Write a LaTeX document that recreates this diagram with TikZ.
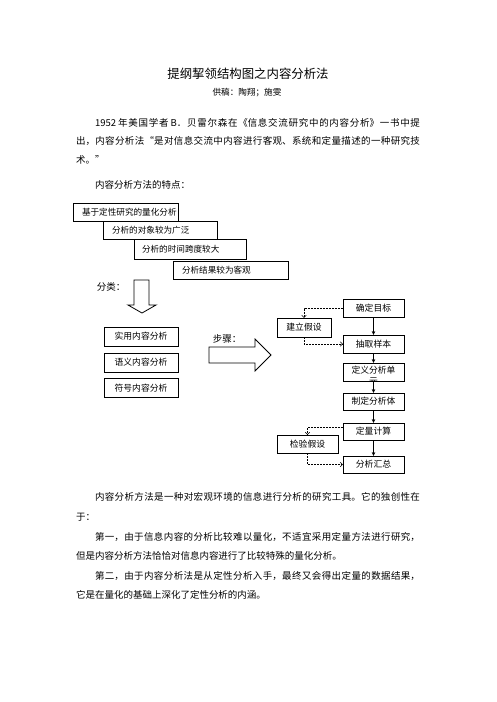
\documentclass[tikz,border=0pt]{standalone}
\usepackage{fontspec}
\setmainfont{Noto Sans CJK SC}
\usetikzlibrary{arrows.meta}
\newcommand{\jline}[2]{\parbox{#1}{\XeTeXlinebreaklocale "zh"\XeTeXlinebreakskip=0pt plus 1fil\relax\parfillskip=0pt\relax\noindent #2}}
\begin{document}
\begin{tikzpicture}[x=1pt,y=-1pt,
  every node/.style={inner sep=0pt, outer sep=0pt},
  body/.style={font=\fontsize{9.5}{11}\selectfont, anchor=west},
  fbox/.style={draw, line width=0.9pt, fill=white},
  ftext/.style={font=\fontsize{8.6}{10}\selectfont, anchor=west},
  cbox/.style={draw, line width=0.9pt, fill=white, minimum width=74pt, minimum height=19pt, font=\fontsize{8.8}{10}\selectfont},
  sbox/.style={draw, line width=0.9pt, fill=white, minimum width=61pt, minimum height=18pt, font=\fontsize{8.8}{10}\selectfont},
  solidarr/.style={line width=0.8pt, -{Stealth[length=4pt,width=3.6pt]}},
  dasharr/.style={line width=0.5pt, dash pattern=on 2pt off 1pt, -{Straight Barb[length=2.5pt,width=4.5pt]}},
  blockarr/.style={draw, line width=0.8pt, fill=white}
]
\fill[white] (0,0) rectangle (497,702);
\path[use as bounding box] (0,0) rectangle (497,702);

% title
\node[font=\fontsize{12.4}{14}\selectfont] (title) at (248,74) {提纲挈领结构图之内容分析法};
\node[font=\fontsize{8.6}{10}\selectfont] (sub) at (247,93) {供稿：陶翔；施雯};

% first paragraph
\node[body] (p1a) at (95,123) {\jline{325pt}{1952 年美国学者 B．贝雷尔森在《信息交流研究中的内容分析》一书中提}};
\node[body] (p1b) at (76,141) {\jline{344pt}{出，内容分析法“是对信息交流中内容进行客观、系统和定量描述的一种研究技}};
\node[body] (p1c) at (76,160) {术。”};
\node[body] (p2) at (95,185) {内容分析方法的特点：};

% feature boxes (staircase)
\node[fbox, minimum width=105pt, minimum height=18pt] (f1) at (125.5,212) {};
\node[ftext] (f1t) at (82,212) {基于定性研究的量化分析};
\node[fbox, minimum width=114pt, minimum height=18pt] (f2) at (160,230) {};
\node[ftext] (f2t) at (112,230) {分析的对象较为广泛};
\node[fbox, minimum width=112pt, minimum height=20pt] (f3) at (190,249) {};
\node[ftext] (f3t) at (142,249) {分析的时间跨度较大};
\node[fbox, minimum width=115pt, minimum height=18pt] (f4) at (230.5,270) {};
\node[ftext] (f4t) at (182,270) {分析结果较为客观};

% classification
\node[font=\fontsize{9.5}{11}\selectfont] (fl) at (111,287) {分类：};
\draw[blockarr] (134,280) -- (149,280) -- (149,305) -- (156,305) -- (142,313) -- (128,305) -- (134,305) -- cycle;
\node[cbox] (c1) at (141,336.5) {实用内容分析};
\node[cbox] (c2) at (141,362.5) {语义内容分析};
\node[cbox] (c3) at (141,388) {符号内容分析};

% steps
\node[font=\fontsize{9.5}{11}\selectfont] (bz) at (227,339) {步骤：};
\draw[blockarr] (209,347) -- (255,347) -- (255,339) -- (271,355) -- (255,371) -- (255,363) -- (209,363) -- cycle;

\node[sbox] (qd) at (373.5,308.5) {确定目标};
\node[sbox, minimum width=54pt, minimum height=19pt] (jl) at (304,327.5) {建立假设};
\node[sbox] (cq) at (373.5,344) {抽取样本};
\node[sbox] (dy) at (373.5,372) {};
\begin{scope}
\clip ([shift={(0.45pt,-0.45pt)}]dy.north west) rectangle ([shift={(-0.45pt,0.45pt)}]dy.south east);
\node[font=\fontsize{8.8}{10.5}\selectfont, align=center] (dyt) at (373.5,375.8) {定义分析单\\元};
\end{scope}
\node[sbox, minimum height=17pt] (zd) at (373.5,401.5) {制定分析体};
\node[sbox, minimum height=17pt] (dl) at (373.5,431.5) {定量计算};
\node[sbox, minimum height=18pt] (jy) at (307.5,444) {检验假设};
\node[sbox, minimum height=17pt] (hz) at (373.5,464.5) {分析汇总};

\draw[solidarr] (qd) -- (cq);
\draw[solidarr] (cq) -- (dy);
\draw[solidarr] (dy) -- (zd);
\draw[solidarr] (zd) -- (dl);
\draw[solidarr] (dl) -- (hz);

\draw[dasharr] (qd.west) -| (jl.north);
\draw[dasharr] (jl.south) |- (cq.west);
\draw[dasharr] ([yshift=4pt]dl.west) -| (jy.north);
\draw[dasharr] (jy.south) |- (hz.west);

% lower paragraphs
\node[body] (q1a) at (95,497) {\jline{325pt}{内容分析方法是一种对宏观环境的信息进行分析的研究工具。它的独创性在}};
\node[body] (q1b) at (76,517) {于：};
\node[body] (q2a) at (95,537) {\jline{325pt}{第一，由于信息内容的分析比较难以量化，不适宜采用定量方法进行研究，}};
\node[body] (q2b) at (76,556) {但是内容分析方法恰恰对信息内容进行了比较特殊的量化分析。};
\node[body] (q3a) at (95,576) {\jline{325pt}{第二，由于内容分析法是从定性分析入手，最终又会得出定量的数据结果，}};
\node[body] (q3b) at (76,595) {它是在量化的基础上深化了定性分析的内涵。};
\end{tikzpicture}
\end{document}
